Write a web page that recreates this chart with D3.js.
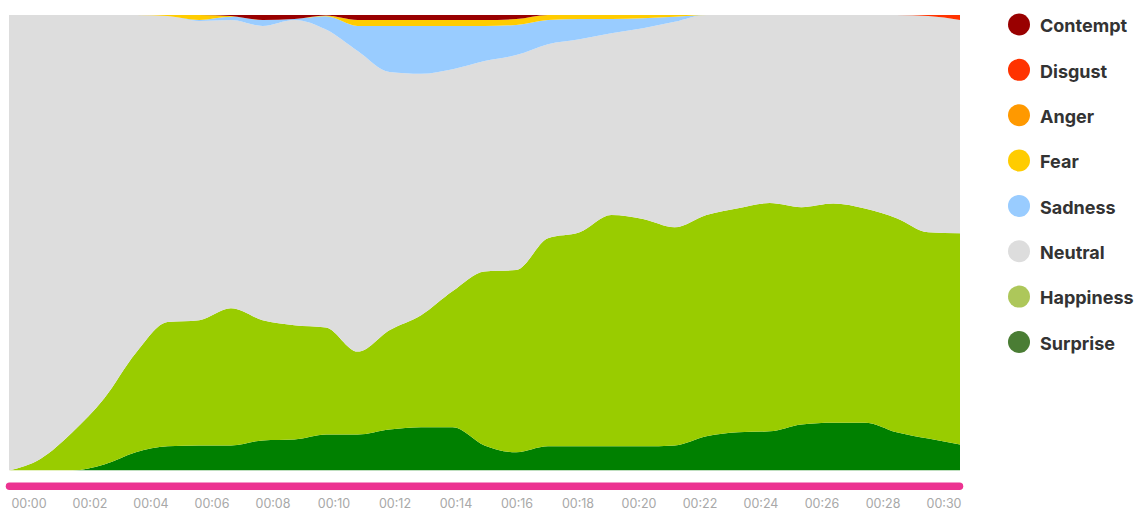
<!DOCTYPE html>
<html>
<head>
<meta charset="utf-8">
<script src="https://cdn.jsdelivr.net/npm/d3@7"></script>
<style>
  html, body { margin: 0; padding: 0; background: #fff; overflow: hidden; }
  svg { display: block; }
</style>
</head>
<body>
<svg width="1136" height="512"></svg>
<script>
// emotion shares per second (percent)
let seconds = d3.range(0, 31);
let emotions = ["Surprise", "Happiness", "Neutral", "Sadness", "Fear", "Anger", "Disgust", "Contempt"];

let surprise  = [0, 0, 0, 1.3, 4.0, 5.3, 5.5, 5.5, 6.6, 6.8, 7.9, 7.9, 9.0, 9.5, 9.5, 5.5, 4.0, 5.3, 5.3, 5.3, 5.3, 5.5, 7.5, 8.4, 8.6, 10.1, 10.5, 10.5, 8.4, 7.0, 5.7];
let happiness = [0, 2.6, 8.4, 14.5, 21.8, 27.3, 27.5, 30.1, 26.4, 25.1, 23.5, 18.2, 21.8, 24.6, 29.9, 38.2, 40.0, 45.7, 47.0, 50.8, 49.9, 47.9, 48.6, 49.2, 50.1, 47.7, 48.1, 47.0, 47.0, 45.3, 46.4];
let neutral   = [100, 97.4, 91.6, 84.2, 74.2, 67.2, 65.7, 63.3, 64.6, 67.0, 65.4, 66.0, 56.7, 53.0, 48.7, 46.2, 47.2, 42.6, 42.4, 39.9, 41.9, 45.1, 43.9, 42.4, 41.3, 42.2, 41.4, 42.5, 44.6, 47.5, 46.8];
let sadness   = [0, 0, 0, 0, 0, 0, 0.2, 0.7, 1.3, 0.2, 2.9, 5.5, 10.1, 10.5, 9.5, 7.7, 6.6, 5.3, 4.4, 3.1, 2.2, 1.1, 0, 0, 0, 0, 0, 0, 0, 0, 0];
let fear      = [0, 0, 0, 0, 0, 0.2, 1.1, 0.2, 0, 0, 0.2, 1.3, 1.3, 1.3, 1.3, 1.3, 1.3, 1.1, 0.9, 0.9, 0.7, 0.4, 0, 0, 0, 0, 0, 0, 0, 0, 0];
let anger     = [0, 0, 0, 0, 0, 0, 0, 0, 0, 0, 0, 0, 0, 0, 0, 0, 0, 0, 0, 0, 0, 0, 0, 0, 0, 0, 0, 0, 0, 0, 0];
let disgust   = [0, 0, 0, 0, 0, 0, 0, 0, 0, 0, 0, 0, 0, 0, 0, 0, 0, 0, 0, 0, 0, 0, 0, 0, 0, 0, 0, 0, 0, 0.2, 1.1];
let contempt  = [0, 0, 0, 0, 0, 0, 0, 0.2, 1.1, 0.9, 0.1, 1.1, 1.1, 1.1, 1.1, 1.1, 0.9, 0, 0, 0, 0, 0, 0, 0, 0, 0, 0, 0, 0, 0, 0];

let tick_seconds = d3.range(0, 31, 2);

// area fill colours and the (slightly different) legend dot colours
let fill_colors = {
  Contempt: "#990000", Disgust: "#ff3300", Anger: "#ff9900", Fear: "#ffcc00",
  Sadness: "#99ccff", Neutral: "#dddddd", Happiness: "#99cc00", Surprise: "#008000"
};
let legend_colors = {
  Contempt: "#990000", Disgust: "#ff3300", Anger: "#ff9900", Fear: "#ffcc00",
  Sadness: "#99ccff", Neutral: "#dddddd", Happiness: "#adc75a", Surprise: "#4a7d34"
};
let legend_order = ["Contempt", "Disgust", "Anger", "Fear", "Sadness", "Neutral", "Happiness", "Surprise"];

let series = { Surprise: surprise, Happiness: happiness, Neutral: neutral, Sadness: sadness,
  Fear: fear, Anger: anger, Disgust: disgust, Contempt: contempt };

let rows = seconds.map((s, i) => {
  let r = { t: s };
  emotions.forEach(e => { r[e] = series[e][i]; });
  return r;
});

// chart box
let plot = { left: 9, right: 960, top: 15, bottom: 470.5 };

let svg = d3.select("svg");

let xScale = d3.scaleLinear().domain([0, 30]).range([plot.left, plot.right]);
let yScale = d3.scaleLinear().domain([0, 1]).range([plot.bottom, plot.top]);

let stack = d3.stack().keys(emotions).offset(d3.stackOffsetExpand);
let layers = stack(rows);

let area = d3.area()
  .curve(d3.curveMonotoneX)
  .x(d => xScale(d.data.t))
  .y0(d => yScale(d[0]))
  .y1(d => yScale(d[1]));

svg.append("defs").append("clipPath").attr("id", "plot")
  .append("rect")
  .attr("x", plot.left).attr("y", plot.top)
  .attr("width", plot.right - plot.left).attr("height", plot.bottom - plot.top);

svg.append("g")
  .attr("clip-path", "url(#plot)")
  .selectAll("path")
  .data(layers)
  .enter()
  .append("path")
  .attr("d", area)
  .attr("fill", d => fill_colors[d.key]);

// pink progress bar
svg.append("line")
  .attr("x1", 9.5).attr("x2", 959.5)
  .attr("y1", 486.3).attr("y2", 486.3)
  .attr("stroke", "#ec3391")
  .attr("stroke-width", 7.5)
  .attr("stroke-linecap", "round");

// time labels
let tScale = d3.scaleLinear().domain([0, 30]).range([28.5, 943.5]);
let xAxis = d3.axisBottom(tScale)
  .tickValues(tick_seconds)
  .tickSize(0)
  .tickPadding(0)
  .tickFormat(s => "00:" + d3.format("02d")(s));

let axis_g = svg.append("g")
  .attr("transform", "translate(0,499)")
  .call(xAxis);
axis_g.select(".domain").remove();
axis_g.selectAll("text")
  .attr("fill", "#a8a8a8")
  .attr("font-family", "Inter, 'Open Sans', sans-serif")
  .attr("font-size", "12.5px")
  .attr("dy", "0.71em");

// legend
let legend = svg.append("g")
  .selectAll("g")
  .data(legend_order)
  .enter()
  .append("g")
  .attr("transform", (d, i) => "translate(1019," + (24.5 + i * 45.35) + ")");

legend.append("circle")
  .attr("r", 11)
  .attr("fill", d => legend_colors[d]);

legend.append("text")
  .attr("x", 21)
  .attr("y", 7.8)
  .attr("fill", "#333")
  .attr("font-family", "Inter, 'Open Sans', sans-serif")
  .attr("font-weight", "bold")
  .attr("font-size", "18px")
  .text(d => d);
</script>
</body>
</html>
